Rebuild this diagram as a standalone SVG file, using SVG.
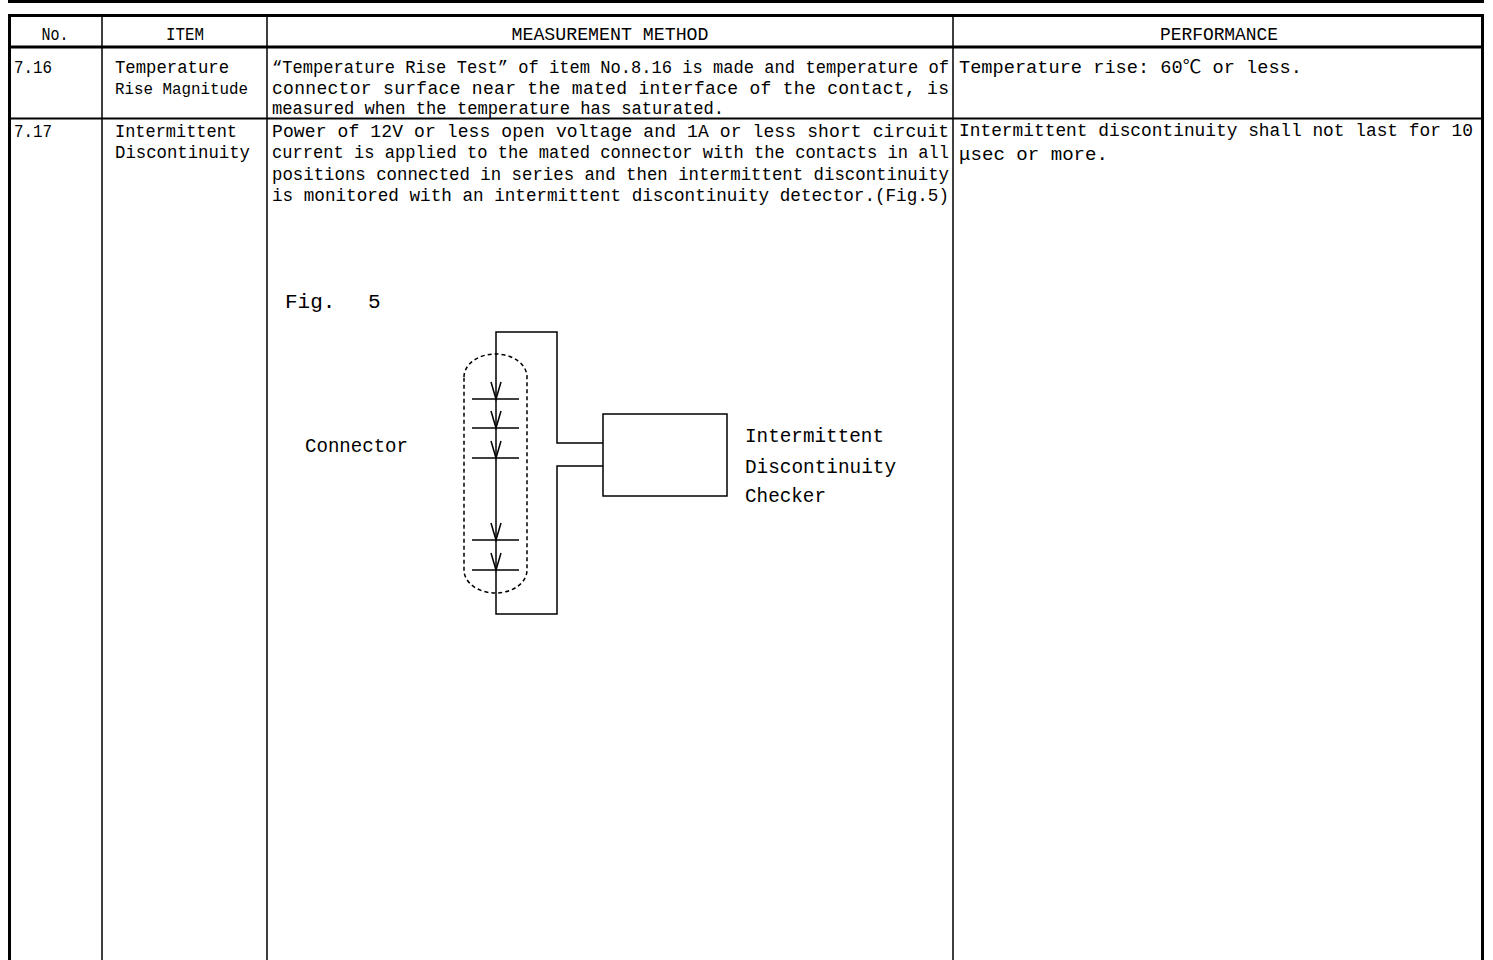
<svg xmlns="http://www.w3.org/2000/svg" width="1493" height="960" viewBox="0 0 1493 960">
<style>
.t{font-family:"Liberation Mono","Noto Sans CJK JP",monospace;font-size:18px;fill:#000}
.h{font-family:"Liberation Mono","Noto Sans CJK JP",monospace;font-size:18px;fill:#000}
.f{font-family:"Liberation Mono","Noto Sans CJK JP",monospace;font-size:21px;fill:#000}
.thick{stroke:#000;stroke-width:3;fill:none}
.mid{stroke:#000;stroke-width:2.2;fill:none}
.thin{stroke:#000;stroke-width:1.5;fill:none}
.w{stroke:#000;stroke-width:1.5;fill:none;stroke-linejoin:miter}
.dash{stroke:#000;stroke-width:1.5;fill:none;stroke-dasharray:4 3}
</style>
<rect width="1493" height="960" fill="#fff"/>
<g id="table">
<line class="thick" x1="8" y1="1.5" x2="1484" y2="1.5"/>
<path class="thick" d="M9.5 960 V15.5 H1482.5 V960"/>
<line class="thick" x1="9" y1="47" x2="1483" y2="47"/>
<line class="mid" x1="9" y1="118.5" x2="1483" y2="118.5"/>
<line class="thin" x1="102" y1="15" x2="102" y2="960"/>
<line class="thin" x1="267" y1="15" x2="267" y2="960"/>
<line class="thin" x1="953" y1="15" x2="953" y2="960"/>
</g>
<g id="header">
<text class="h" x="55" y="40" text-anchor="middle" textLength="27" lengthAdjust="spacingAndGlyphs">No.</text>
<text class="h" x="185" y="40" text-anchor="middle" textLength="38" lengthAdjust="spacingAndGlyphs">ITEM</text>
<text class="h" x="610" y="40" text-anchor="middle" textLength="197" lengthAdjust="spacingAndGlyphs">MEASUREMENT METHOD</text>
<text class="h" x="1219" y="40" text-anchor="middle" textLength="118" lengthAdjust="spacingAndGlyphs">PERFORMANCE</text>
</g>
<g id="row716">
<text class="t" x="14" y="73" textLength="38" lengthAdjust="spacingAndGlyphs">7.16</text>
<text class="t" x="115" y="73" textLength="114" lengthAdjust="spacingAndGlyphs">Temperature</text>
<text class="t" x="115" y="94" style="font-size:16px" textLength="133" lengthAdjust="spacingAndGlyphs">Rise Magnitude</text>
<text class="t" x="272" y="73" textLength="677" lengthAdjust="spacingAndGlyphs">“Temperature Rise Test” of item No.8.16 is made and temperature of</text>
<text class="t" x="272" y="94" textLength="677" lengthAdjust="spacing">connector surface near the mated interface of the contact,  is</text>
<text class="t" x="272" y="114" textLength="452" lengthAdjust="spacingAndGlyphs">measured when the temperature has saturated.</text>
<text class="t" x="959" y="73" textLength="343" lengthAdjust="spacingAndGlyphs">Temperature rise: 60℃ or less.</text>
</g>
<g id="row717">
<text class="t" x="14" y="137" textLength="38" lengthAdjust="spacingAndGlyphs">7.17</text>
<text class="t" x="115" y="137" textLength="122" lengthAdjust="spacingAndGlyphs">Intermittent</text>
<text class="t" x="115" y="158" textLength="135" lengthAdjust="spacingAndGlyphs">Discontinuity</text>
<text class="t" x="272" y="137" textLength="677" lengthAdjust="spacing">Power of 12V or less open voltage and 1A or less short circuit</text>
<text class="t" x="272" y="158" textLength="677" lengthAdjust="spacingAndGlyphs">current is applied to the mated connector with the contacts in all</text>
<text class="t" x="272" y="180" textLength="677" lengthAdjust="spacingAndGlyphs">positions connected in series and then intermittent discontinuity</text>
<text class="t" x="272" y="201" textLength="677" lengthAdjust="spacingAndGlyphs">is monitored with an intermittent discontinuity detector.(Fig.5)</text>
<text class="t" x="959" y="136" textLength="514" lengthAdjust="spacingAndGlyphs">Intermittent discontinuity shall not last for 10</text>
<text class="t" x="959" y="160" textLength="149" lengthAdjust="spacingAndGlyphs">μsec or more.</text>
</g>
<g id="fig5-label"><text class="f" x="285" y="308">Fig.<tspan x="368">5</tspan></text></g>
<g id="connector">
<path class="dash" d="M464 377 A31.5 23 0 0 1 527 377 V570 A31.5 23 0 0 1 464 570 Z"/>
<text class="f" x="305" y="452" textLength="103" lengthAdjust="spacingAndGlyphs">Connector</text>
</g>
<g id="checker">
<rect class="w" x="603" y="414" width="124" height="82"/>
<text class="f" x="745" y="442" textLength="139" lengthAdjust="spacingAndGlyphs">Intermittent</text>
<text class="f" x="745" y="473" textLength="151" lengthAdjust="spacingAndGlyphs">Discontinuity</text>
<text class="f" x="745" y="502" textLength="81" lengthAdjust="spacingAndGlyphs">Checker</text>
</g>
<g id="connectors">
<path class="w" d="M603 443 H557 V332 H496 V614 H557 V466 H603"/>
<g id="contacts">
<line class="w" x1="472" y1="399" x2="519" y2="399"/>
<line class="w" x1="472" y1="428" x2="519" y2="428"/>
<line class="w" x1="472" y1="458" x2="519" y2="458"/>
<line class="w" x1="472" y1="540" x2="519" y2="540"/>
<line class="w" x1="472" y1="570" x2="519" y2="570"/>
<path class="w" d="M491 382 L496 399 L501 382"/>
<path class="w" d="M491 411 L496 428 L501 411"/>
<path class="w" d="M491 441 L496 458 L501 441"/>
<path class="w" d="M491 523 L496 540 L501 523"/>
<path class="w" d="M491 553 L496 570 L501 553"/>
</g>
</g>
</svg>
